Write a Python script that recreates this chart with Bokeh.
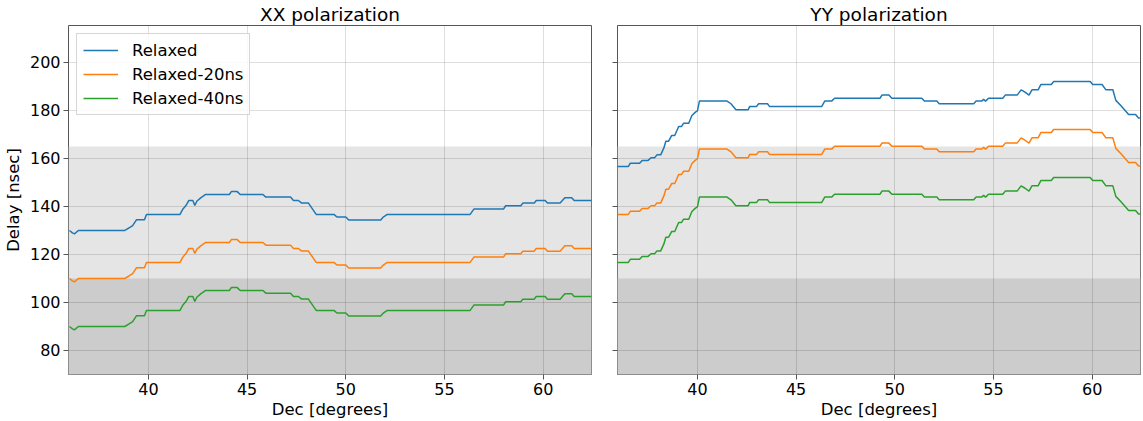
from bokeh.plotting import figure
from bokeh.layouts import row
from bokeh.models import BoxAnnotation, FixedTicker, Range1d, Legend, LegendItem
from bokeh.embed import file_html
from bokeh.resources import INLINE

# ---------------- data ----------------
series_names = ["Relaxed", "Relaxed-20ns", "Relaxed-40ns"]
series_colors = ["#1f77b4", "#ff7f0e", "#2ca02c"]
panel_titles = ["XX polarization", "YY polarization"]
x_ticks = [40, 45, 50, 55, 60]
y_ticks = [80, 100, 120, 140, 160, 180, 200]
band_light_top = 165
band_dark_top = 110

xx_dec = [36.0, 36.15, 36.25, 36.45, 38.8, 39.0, 39.2, 39.4, 39.8, 39.9, 41.6, 41.75, 41.9, 42.05,
          42.25, 42.35, 42.45, 42.65, 42.9, 44.1, 44.2, 44.5, 44.65, 45.8, 45.95, 47.2, 47.35, 47.6,
          47.75, 48.1, 48.5, 49.4, 49.55, 50.0, 50.15, 51.77, 51.9, 52.1, 56.3, 56.5, 58.0, 58.1,
          58.87, 58.97, 59.55, 59.65, 60.1, 60.22, 60.86, 61.1, 61.45, 61.57, 62.45]
xx_relaxed = [130.0, 129.0, 128.6, 130.0, 130.0, 131.0, 132.0, 134.5, 134.5, 136.7, 136.7, 139.0,
              140.4, 142.5, 142.5, 140.4, 142.2, 143.6, 145.0, 145.0, 146.2, 146.2, 145.0, 145.0,
              143.9, 143.9, 142.5, 142.5, 141.5, 141.5, 136.7, 136.7, 135.6, 135.6, 134.4, 134.4,
              135.6, 136.7, 136.7, 139.0, 139.0, 140.3, 140.3, 141.4, 141.4, 142.5, 142.5, 141.4,
              141.4, 143.6, 143.6, 142.5, 142.5]
xx_relaxed_20 = [110.0, 109.0, 108.6, 110.0, 110.0, 111.0, 112.0, 114.5, 114.5, 116.7, 116.7, 119.0,
                 120.4, 122.5, 122.5, 120.4, 122.2, 123.6, 125.0, 125.0, 126.2, 126.2, 125.0, 125.0,
                 123.9, 123.9, 122.5, 122.5, 121.5, 121.5, 116.7, 116.7, 115.6, 115.6, 114.4, 114.4,
                 115.6, 116.7, 116.7, 119.0, 119.0, 120.3, 120.3, 121.4, 121.4, 122.5, 122.5, 121.4,
                 121.4, 123.6, 123.6, 122.5, 122.5]
xx_relaxed_40 = [90.0, 89.0, 88.6, 90.0, 90.0, 91.0, 92.0, 94.5, 94.5, 96.7, 96.7, 99.0,
                 100.4, 102.5, 102.5, 100.4, 102.2, 103.6, 105.0, 105.0, 106.2, 106.2, 105.0, 105.0,
                 103.9, 103.9, 102.5, 102.5, 101.5, 101.5, 96.7, 96.7, 95.6, 95.6, 94.4, 94.4,
                 95.6, 96.7, 96.7, 99.0, 99.0, 100.3, 100.3, 101.4, 101.4, 102.5, 102.5, 101.4,
                 101.4, 103.6, 103.6, 102.5, 102.5]

yy_dec = [35.95, 36.5, 36.6, 37.07, 37.2, 37.5, 37.65, 37.83, 37.95, 38.14, 38.3, 38.4, 38.54, 38.7,
          38.85, 39.05, 39.19, 39.3, 39.56, 39.72, 39.9, 40.0, 40.1, 41.5, 41.7, 41.95, 42.57, 42.65,
          43.0, 43.1, 43.55, 43.65, 46.3, 46.45, 46.8, 46.95, 49.25, 49.35, 49.7, 49.85, 51.37, 51.5,
          52.13, 52.25, 54.0, 54.12, 54.4, 54.5, 54.6, 54.75, 55.47, 55.6, 56.2, 56.4, 56.6, 56.8,
          56.95, 57.26, 57.4, 57.93, 58.05, 59.9, 60.03, 60.5, 60.7, 61.05, 61.2, 61.45, 61.85, 62.2,
          62.35, 62.45]
yy_relaxed = [156.7, 156.7, 158.0, 158.0, 159.2, 159.2, 160.3, 160.3, 161.5, 161.5, 164.4, 167.2,
              167.2, 169.6, 169.6, 173.3, 173.3, 174.7, 174.7, 177.9, 179.3, 179.8, 183.9, 183.9,
              182.8, 180.3, 180.3, 181.7, 181.7, 182.8, 182.8, 181.7, 181.7, 183.9, 183.9, 185.1,
              185.1, 186.4, 186.4, 185.1, 185.1, 183.9, 183.9, 182.8, 182.8, 183.9, 183.9, 184.6,
              183.9, 185.1, 185.1, 186.4, 186.4, 188.6, 187.6, 186.4, 188.6, 188.6, 190.8, 190.8,
              192.1, 192.1, 190.8, 190.8, 188.6, 188.6, 184.2, 182.1, 178.3, 178.3, 176.9, 176.9]
yy_relaxed_20 = [136.7, 136.7, 138.0, 138.0, 139.2, 139.2, 140.3, 140.3, 141.5, 141.5, 144.4, 147.2,
                 147.2, 149.6, 149.6, 153.3, 153.3, 154.7, 154.7, 157.9, 159.3, 159.8, 163.9, 163.9,
                 162.8, 160.3, 160.3, 161.7, 161.7, 162.8, 162.8, 161.7, 161.7, 163.9, 163.9, 165.1,
                 165.1, 166.4, 166.4, 165.1, 165.1, 163.9, 163.9, 162.8, 162.8, 163.9, 163.9, 164.6,
                 163.9, 165.1, 165.1, 166.4, 166.4, 168.6, 167.6, 166.4, 168.6, 168.6, 170.8, 170.8,
                 172.1, 172.1, 170.8, 170.8, 168.6, 168.6, 164.2, 162.1, 158.3, 158.3, 156.9, 156.9]
yy_relaxed_40 = [116.7, 116.7, 118.0, 118.0, 119.2, 119.2, 120.3, 120.3, 121.5, 121.5, 124.4, 127.2,
                 127.2, 129.6, 129.6, 133.3, 133.3, 134.7, 134.7, 137.9, 139.3, 139.8, 143.9, 143.9,
                 142.8, 140.3, 140.3, 141.7, 141.7, 142.8, 142.8, 141.7, 141.7, 143.9, 143.9, 145.1,
                 145.1, 146.4, 146.4, 145.1, 145.1, 143.9, 143.9, 142.8, 142.8, 143.9, 143.9, 144.6,
                 143.9, 145.1, 145.1, 146.4, 146.4, 148.6, 147.6, 146.4, 148.6, 148.6, 150.8, 150.8,
                 152.1, 152.1, 150.8, 150.8, 148.6, 148.6, 144.2, 142.1, 138.3, 138.3, 136.9, 136.9]

# ---------------- styling ----------------
FONT = "DejaVu Sans"
TICK_FS = "16px"
LABEL_FS = "16.5px"
TITLE_FS = "18.5px"
SPINE = "#555555"

y_range = Range1d(70, 215.4)


def make_panel(title, dec, series, first):
    p = figure(
        frame_width=523, frame_height=349,
        x_range=Range1d(35.95, 62.45), y_range=y_range,
        output_backend="svg", toolbar_location=None,
        min_border_left=59 if first else 8,
        min_border_right=18 if first else 1,
        min_border_top=0, min_border_bottom=4,
    )
    p.title.text = title
    p.title.align = "center"
    p.title.text_font = FONT
    p.title.text_font_size = TITLE_FS
    p.title.text_font_style = "normal"
    p.title.text_color = "black"
    p.title.standoff = 2

    # shaded bands (behind the grid)
    light = BoxAnnotation(top=band_light_top, fill_color="#e5e5e5", fill_alpha=1.0,
                          line_alpha=0, level="image")
    dark = BoxAnnotation(top=band_dark_top, fill_color="#cccccc", fill_alpha=1.0,
                         line_alpha=0, level="image")
    p.add_layout(light)
    p.add_layout(dark)

    p.outline_line_color = SPINE
    p.outline_line_width = 1
    p.background_fill_color = "white"

    for g in (p.xgrid, p.ygrid):
        g.grid_line_color = "black"
        g.grid_line_alpha = 0.13
        g.grid_line_width = 1
    p.xgrid.ticker = FixedTicker(ticks=x_ticks)
    p.ygrid.ticker = FixedTicker(ticks=y_ticks)

    for ax in (p.xaxis[0], p.yaxis[0]):
        ax.axis_line_color = None
        ax.major_tick_line_color = SPINE
        ax.major_tick_out = 5
        ax.major_tick_in = 0
        ax.minor_tick_line_color = None
        ax.major_label_text_font = FONT
        ax.major_label_text_font_size = TICK_FS
        ax.major_label_text_color = "black"
        ax.axis_label_text_font = FONT
        ax.axis_label_text_font_size = LABEL_FS
        ax.axis_label_text_font_style = "normal"
        ax.axis_label_text_color = "black"
    p.xaxis.ticker = FixedTicker(ticks=x_ticks)
    p.yaxis.ticker = FixedTicker(ticks=y_ticks)
    p.xaxis.axis_label = "Dec [degrees]"
    p.xaxis.major_label_standoff = 3
    p.xaxis.axis_label_standoff = 2
    if first:
        p.yaxis.axis_label = "Delay [nsec]"
        p.yaxis.major_label_standoff = 3
        p.yaxis.axis_label_standoff = 4
    else:
        # shared y axis: tick marks only, no labels
        p.yaxis.major_label_overrides = {t: "" for t in y_ticks}
        p.yaxis.major_label_standoff = 0

    renderers = []
    for name, color, vals in zip(series_names, series_colors, series):
        r = p.line(dec, vals, line_color=color, line_width=1.5)
        renderers.append((name, r))

    if first:
        legend = Legend(
            items=[LegendItem(label=n, renderers=[r]) for n, r in renderers],
            location="top_left",
            label_text_font=FONT, label_text_font_size=LABEL_FS,
            label_text_color="black",
            glyph_width=35, glyph_height=20, label_height=20,
            label_standoff=14, spacing=4, padding=6, margin=8,
            border_line_color="#cccccc", border_line_alpha=0.8,
            background_fill_color="white", background_fill_alpha=0.8,
        )
        p.add_layout(legend)
    return p


p1 = make_panel(panel_titles[0], xx_dec, [xx_relaxed, xx_relaxed_20, xx_relaxed_40], True)
p2 = make_panel(panel_titles[1], yy_dec, [yy_relaxed, yy_relaxed_20, yy_relaxed_40], False)

p = row(p1, p2)
open("out.html", "w").write(file_html(p, INLINE))
